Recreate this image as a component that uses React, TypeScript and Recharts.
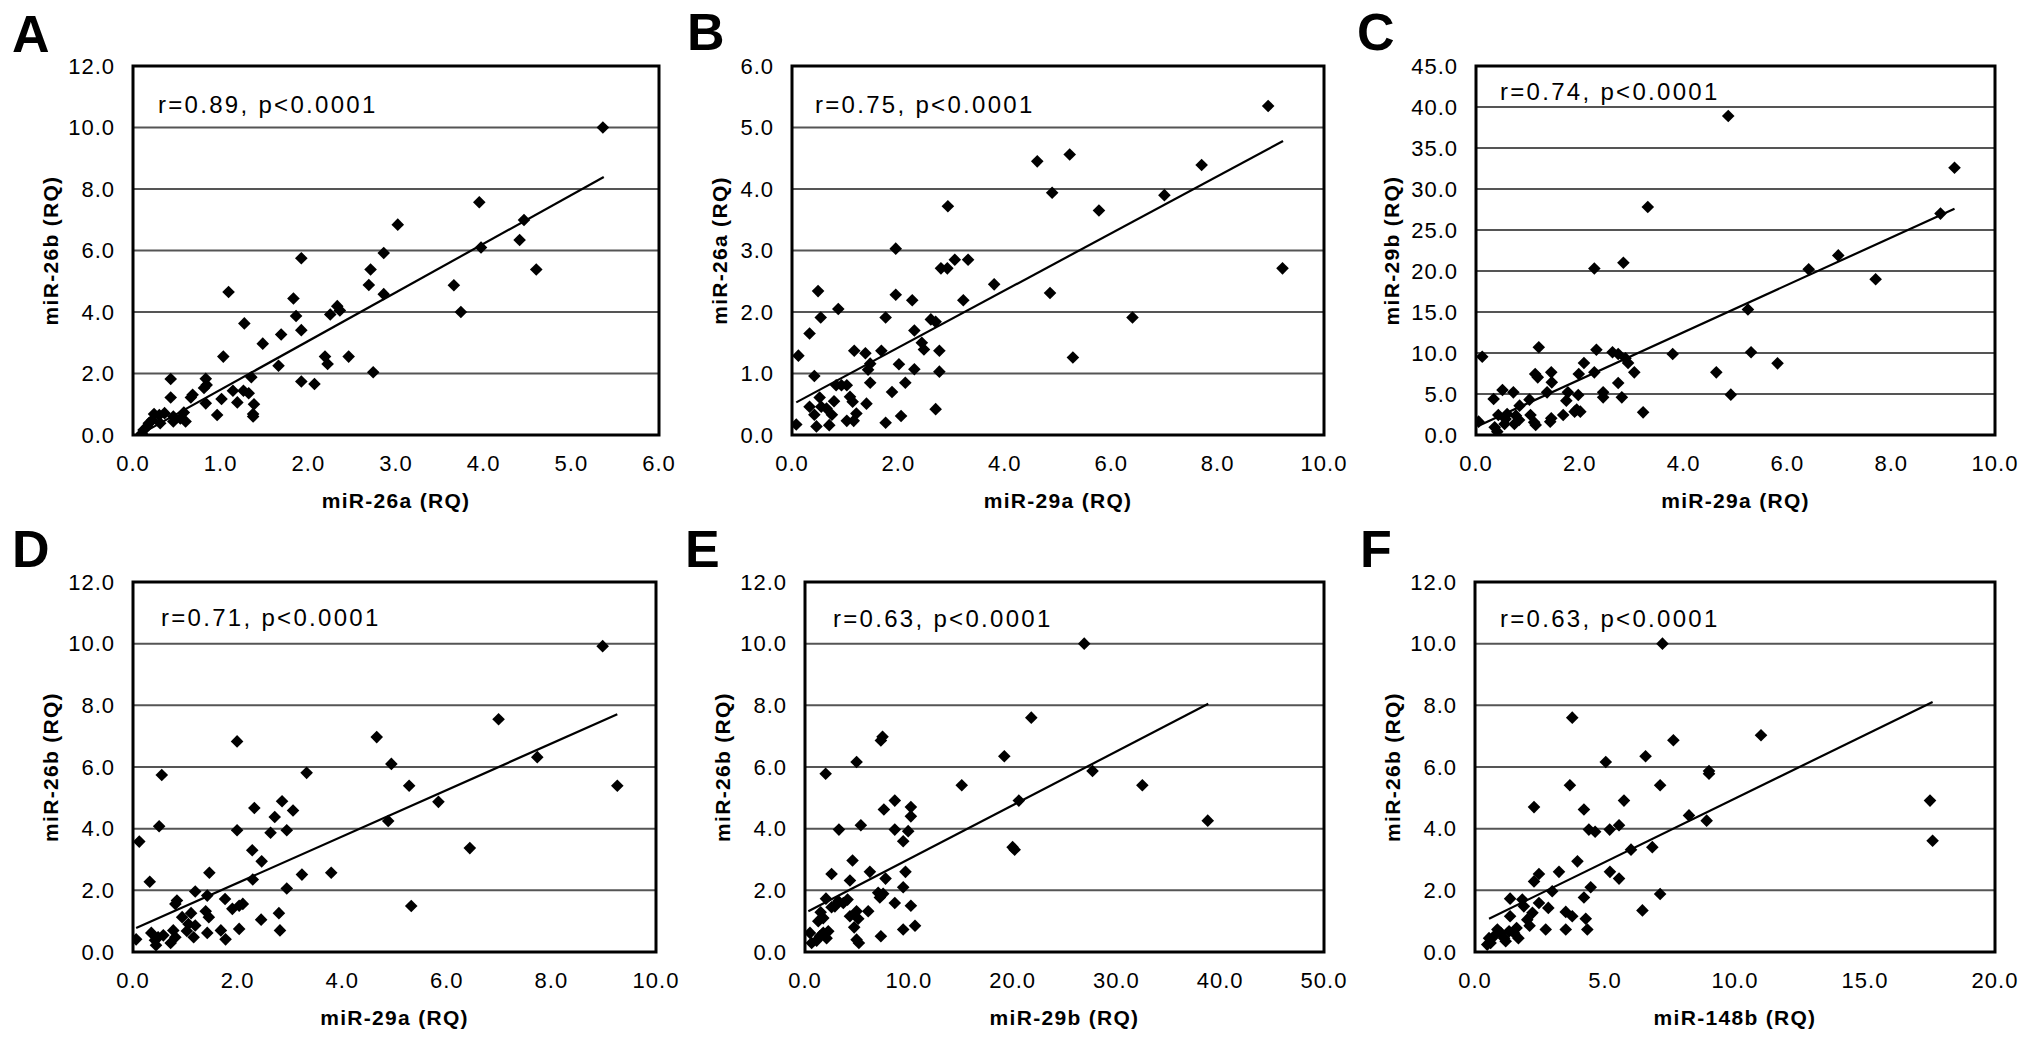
import React from 'react';
import { ScatterChart, Scatter, XAxis, YAxis, CartesianGrid, ReferenceArea, ReferenceLine } from 'recharts';

const FONT = '"Liberation Sans", Arial, Helvetica, sans-serif';

// ---------- Panel A : miR-26a vs miR-26b ----------
const aX = [5.36, 3.95, 3.02, 4.46, 4.41, 3.97, 4.60, 2.86, 2.71, 2.69, 2.86, 3.66, 3.74, 1.92, 1.09, 1.83, 1.86, 1.92, 1.27, 1.69, 1.48, 1.03, 2.25, 2.33, 2.36, 1.66, 2.19, 2.22, 2.46, 2.74, 1.92, 2.07, 1.35, 0.43, 0.83, 0.84, 0.81, 0.83, 0.68, 0.66, 0.43, 1.01, 1.14, 1.26, 1.32, 1.19, 1.38, 1.37, 1.37, 0.96, 0.58, 0.60, 0.54, 0.46, 0.46, 0.36, 0.30, 0.24, 0.31, 0.22, 0.18, 0.16, 0.12, 0.10];
const aY = [10.0, 7.57, 6.84, 6.99, 6.34, 6.10, 5.38, 5.92, 5.38, 4.88, 4.58, 4.87, 4.00, 5.75, 4.65, 4.44, 3.87, 3.41, 3.63, 3.27, 2.97, 2.55, 3.92, 4.19, 4.05, 2.25, 2.55, 2.31, 2.55, 2.04, 1.74, 1.66, 1.88, 1.82, 1.83, 1.63, 1.53, 1.03, 1.31, 1.22, 1.22, 1.17, 1.44, 1.44, 1.36, 1.06, 1.00, 0.68, 0.60, 0.65, 0.73, 0.44, 0.54, 0.60, 0.44, 0.71, 0.65, 0.68, 0.38, 0.49, 0.38, 0.27, 0.16, 0.05];
const aTrendX = [0.08, 5.37];
const aTrendY = [0.02, 8.39];

// ---------- Panel B : miR-29a vs miR-26a ----------
const bX = [9.22, 8.95, 7.70, 7.00, 5.22, 4.61, 4.89, 5.77, 4.85, 6.40, 5.28, 2.93, 1.95, 2.80, 2.92, 3.06, 3.31, 3.80, 3.22, 1.95, 2.26, 0.49, 0.54, 0.87, 0.33, 1.76, 2.61, 2.70, 2.30, 2.44, 2.48, 0.12, 1.17, 1.38, 1.68, 2.77, 1.47, 2.01, 2.30, 2.77, 0.42, 1.43, 1.47, 0.83, 0.93, 1.03, 1.88, 2.13, 1.09, 1.14, 1.40, 0.52, 0.79, 0.33, 0.55, 0.65, 0.42, 0.75, 1.21, 2.70, 2.05, 1.76, 1.03, 1.16, 0.46, 0.70, 0.08];
const bY = [2.71, 5.35, 4.39, 3.90, 4.56, 4.45, 3.94, 3.65, 2.31, 1.91, 1.26, 3.72, 3.03, 2.71, 2.71, 2.85, 2.85, 2.45, 2.19, 2.28, 2.19, 2.34, 1.91, 2.05, 1.65, 1.91, 1.88, 1.84, 1.70, 1.50, 1.39, 1.29, 1.37, 1.33, 1.37, 1.37, 1.16, 1.15, 1.07, 1.03, 0.96, 1.06, 0.85, 0.81, 0.81, 0.81, 0.70, 0.85, 0.62, 0.54, 0.51, 0.61, 0.55, 0.46, 0.46, 0.43, 0.33, 0.33, 0.35, 0.42, 0.31, 0.20, 0.23, 0.23, 0.14, 0.16, 0.17];
const bTrendX = [0.08, 9.23];
const bTrendY = [0.53, 4.78];

// ---------- Panel C : miR-29a vs miR-29b ----------
const cX = [4.86, 9.22, 3.31, 8.95, 6.98, 6.41, 7.70, 2.28, 2.84, 5.24, 5.30, 5.81, 4.63, 4.91, 3.79, 3.22, 0.12, 1.21, 2.32, 2.63, 2.74, 2.88, 2.93, 3.05, 2.08, 2.28, 1.98, 1.14, 1.19, 1.45, 1.46, 2.74, 1.37, 1.77, 1.97, 2.45, 2.45, 2.81, 0.51, 0.72, 0.34, 1.03, 0.84, 1.74, 1.94, 2.01, 1.90, 1.68, 1.45, 1.43, 1.05, 1.12, 1.15, 0.43, 0.60, 0.57, 0.77, 0.74, 0.83, 0.55, 0.05, 0.36, 0.41];
const cY = [38.9, 32.6, 27.8, 27.0, 21.9, 20.2, 19.0, 20.3, 21.0, 15.3, 10.1, 8.74, 7.64, 4.92, 9.88, 2.76, 9.55, 10.7, 10.4, 10.1, 9.88, 9.35, 8.78, 7.64, 8.78, 7.64, 7.44, 7.44, 7.03, 7.64, 6.42, 6.34, 5.20, 5.20, 4.88, 5.20, 4.59, 4.59, 5.49, 5.20, 4.39, 4.31, 3.58, 4.19, 3.09, 2.85, 2.85, 2.44, 2.03, 1.63, 2.44, 1.54, 1.22, 2.44, 2.56, 1.95, 2.36, 1.34, 1.83, 1.34, 1.63, 0.93, 0.41];
const cTrendX = [0.05, 9.22];
const cTrendY = [1.14, 27.6];

// ---------- Panel D : miR-29a vs miR-26b ----------
const dX = [8.98, 6.99, 4.66, 4.94, 7.73, 9.26, 5.28, 5.84, 4.88, 6.44, 5.32, 3.32, 1.99, 0.55, 0.50, 0.12, 0.32, 1.99, 2.32, 2.71, 2.85, 3.06, 2.63, 2.94, 2.28, 2.46, 2.29, 3.23, 3.79, 2.94, 1.46, 1.19, 1.42, 0.84, 0.81, 1.76, 1.90, 2.10, 2.03, 2.79, 2.81, 2.45, 2.03, 1.77, 1.68, 1.42, 1.45, 1.39, 1.11, 0.94, 1.06, 1.19, 1.03, 1.16, 0.81, 0.72, 0.58, 0.48, 0.35, 0.42, 0.44, 0.06, 0.77];
const dY = [9.92, 7.55, 6.97, 6.10, 6.32, 5.39, 5.39, 4.87, 4.25, 3.37, 1.49, 5.81, 6.83, 5.74, 4.08, 3.58, 2.28, 3.95, 4.67, 4.38, 4.89, 4.59, 3.87, 3.95, 3.30, 2.94, 2.35, 2.51, 2.57, 2.06, 2.57, 1.96, 1.83, 1.67, 1.56, 1.72, 1.40, 1.56, 1.50, 1.26, 0.70, 1.05, 0.75, 0.41, 0.70, 0.62, 1.13, 1.32, 1.26, 1.13, 0.91, 0.86, 0.68, 0.48, 0.48, 0.29, 0.54, 0.48, 0.62, 0.38, 0.22, 0.41, 0.70];
const dTrendX = [0.06, 9.26];
const dTrendY = [0.78, 7.71];

// ---------- Panel E : miR-29b vs miR-26b ----------
const eX = [26.9, 21.8, 19.2, 27.7, 32.5, 15.1, 20.6, 38.8, 20.0, 20.2, 7.47, 7.31, 4.97, 1.99, 7.60, 8.65, 10.2, 10.2, 9.94, 8.65, 9.46, 5.38, 3.27, 4.58, 2.56, 6.25, 4.33, 7.76, 9.68, 9.46, 7.05, 7.53, 7.21, 8.65, 10.2, 2.02, 4.10, 3.69, 3.21, 2.56, 2.88, 1.51, 6.09, 4.97, 4.33, 5.13, 4.74, 1.76, 1.28, 9.46, 10.6, 7.31, 4.97, 5.19, 2.24, 1.76, 1.44, 2.08, 1.12, 0.48, 0.64, 1.60];
const eY = [10.0, 7.60, 6.35, 5.87, 5.41, 5.41, 4.91, 4.26, 3.40, 3.32, 6.98, 6.86, 6.16, 5.78, 4.62, 4.91, 4.70, 4.40, 3.92, 3.97, 3.59, 4.11, 3.97, 2.97, 2.53, 2.60, 2.32, 2.38, 2.60, 2.10, 1.92, 1.89, 1.77, 1.59, 1.50, 1.73, 1.70, 1.59, 1.65, 1.45, 1.48, 1.29, 1.32, 1.32, 1.16, 1.08, 0.80, 1.10, 1.00, 0.73, 0.85, 0.51, 0.40, 0.29, 0.67, 0.62, 0.51, 0.45, 0.37, 0.62, 0.29, 0.56];
const eTrendX = [0.32, 38.85];
const eTrendY = [1.32, 8.05];

// ---------- Panel F : miR-148b vs miR-26b ----------
const fX = [7.21, 3.74, 11.0, 7.63, 6.56, 5.03, 9.00, 9.00, 3.65, 7.12, 5.73, 2.27, 4.19, 17.5, 17.6, 8.23, 8.91, 5.54, 5.18, 4.38, 4.62, 6.82, 6.00, 3.94, 3.23, 5.19, 5.54, 2.46, 2.27, 2.97, 4.45, 4.19, 7.12, 6.44, 1.35, 1.82, 1.88, 2.46, 2.82, 2.21, 3.49, 3.74, 4.26, 2.01, 2.10, 2.72, 3.49, 4.32, 1.35, 1.60, 1.31, 1.50, 0.99, 0.86, 1.12, 0.73, 0.54, 1.67, 1.18, 0.60, 0.47];
const fY = [10.0, 7.60, 7.03, 6.87, 6.35, 6.16, 5.87, 5.78, 5.41, 5.41, 4.91, 4.70, 4.62, 4.91, 3.61, 4.43, 4.26, 4.11, 3.97, 3.97, 3.90, 3.40, 3.32, 2.94, 2.60, 2.60, 2.38, 2.53, 2.29, 1.97, 2.10, 1.77, 1.88, 1.35, 1.73, 1.70, 1.48, 1.59, 1.43, 1.27, 1.30, 1.16, 1.08, 1.05, 0.85, 0.73, 0.73, 0.73, 1.16, 0.78, 0.67, 0.62, 0.62, 0.73, 0.45, 0.51, 0.45, 0.45, 0.35, 0.29, 0.24];
const fTrendX = [0.54, 17.6];
const fTrendY = [1.08, 8.11];

// ---------- Tick lists ----------
const ticksX6 = [0, 1, 2, 3, 4, 5, 6];
const ticksX10 = [0, 2, 4, 6, 8, 10];
const ticksX50 = [0, 10, 20, 30, 40, 50];
const ticksX20 = [0, 5, 10, 15, 20];
const ticksY12 = [0, 2, 4, 6, 8, 10, 12];
const ticksY6 = [0, 1, 2, 3, 4, 5, 6];
const ticksY45 = [0, 5, 10, 15, 20, 25, 30, 35, 40, 45];

const toPoints = (xs: number[], ys: number[]) => xs.map((x, i) => ({ x, y: ys[i] }));

const Diamond = (props: any) => {
  const { cx, cy } = props;
  if (cx == null || cy == null) return <g />;
  const r = 6.3;
  return <path d={`M${cx},${cy - r}L${cx + r},${cy}L${cx},${cy + r}L${cx - r},${cy}Z`} fill="#000" />;
};

const YW = 130;
const MT = 20;
const MR = 40;
const XH = 95;

type PanelProps = {
  L: number; T: number; R: number; B: number;
  xs: number[]; ys: number[]; tx: number[]; ty: number[];
  xTicks: number[]; yTicks: number[];
  xTitle: string; yTitle: string; yTitleOff: number;
};

const Panel = (p: PanelProps) => {
  const w = YW + (p.R - p.L) + MR;
  const h = MT + (p.B - p.T) + XH;
  const xMax = p.xTicks[p.xTicks.length - 1];
  const yMax = p.yTicks[p.yTicks.length - 1];
  const tickStyle = { fill: '#000', fontSize: 22, fontFamily: FONT, letterSpacing: 1 };
  return (
    <div style={{ position: 'absolute', left: p.L - YW, top: p.T - MT, width: w, height: h }}>
      <ScatterChart width={w} height={h} margin={{ top: MT, right: MR, bottom: 0, left: 0 }}>
        <CartesianGrid horizontal={true} vertical={false} stroke="#555" strokeWidth={2} />
        <XAxis
          type="number" dataKey="x" domain={[0, xMax]} ticks={p.xTicks} interval={0}
          tickFormatter={(v: number) => v.toFixed(1)} axisLine={false} tickLine={false}
          tickSize={0} tickMargin={20} height={XH} tick={tickStyle} allowDataOverflow
          label={{
            value: p.xTitle,
            content: (lp: any) => {
              const vb = lp.viewBox || {};
              const cx = vb.x + vb.width / 2;
              const y = vb.y + 73;
              return (
                <text x={cx} y={y} textAnchor="middle" fontFamily={FONT} fontWeight="bold" fontSize={21} letterSpacing={1.3} fill="#000">
                  {p.xTitle}
                </text>
              );
            },
          }}
        />
        <YAxis
          type="number" dataKey="y" domain={[0, yMax]} ticks={p.yTicks} interval={0}
          tickFormatter={(v: number) => v.toFixed(1)} axisLine={false} tickLine={false}
          tickSize={0} tickMargin={18} width={YW} tick={tickStyle} allowDataOverflow
          label={{
            value: p.yTitle,
            content: (lp: any) => {
              const vb = lp.viewBox || {};
              const x = vb.x + vb.width - p.yTitleOff;
              const y = vb.y + vb.height / 2;
              return (
                <text x={x} y={y} transform={`rotate(-90 ${x} ${y})`} textAnchor="middle" dominantBaseline="central"
                  fontFamily={FONT} fontWeight="bold" fontSize={21} letterSpacing={1.3} fill="#000">
                  {p.yTitle}
                </text>
              );
            },
          }}
        />
        <ReferenceArea x1={0} x2={xMax} y1={0} y2={yMax} fill="none" fillOpacity={0} stroke="#000" strokeWidth={3} ifOverflow="visible" />
        <Scatter data={toPoints(p.xs, p.ys)} fill="#000" shape={Diamond} isAnimationActive={false} />
        <ReferenceLine
          segment={[{ x: p.tx[0], y: p.ty[0] }, { x: p.tx[1], y: p.ty[1] }]}
          stroke="#000" strokeWidth={2.2} ifOverflow="visible"
        />
      </ScatterChart>
    </div>
  );
};

const letters = [
  { t: 'A', x: 12, y: 52 },
  { t: 'B', x: 687, y: 50 },
  { t: 'C', x: 1357, y: 50 },
  { t: 'D', x: 12, y: 567 },
  { t: 'E', x: 685, y: 567 },
  { t: 'F', x: 1360, y: 567 },
];

const notes = [
  { t: 'r=0.89, p<0.0001', x: 158, y: 113 },
  { t: 'r=0.75, p<0.0001', x: 815, y: 113 },
  { t: 'r=0.74, p<0.0001', x: 1500, y: 100 },
  { t: 'r=0.71, p<0.0001', x: 161, y: 626 },
  { t: 'r=0.63, p<0.0001', x: 833, y: 627 },
  { t: 'r=0.63, p<0.0001', x: 1500, y: 627 },
];

export default function App() {
  return (
    <div style={{ position: 'absolute', left: 0, top: 0, width: 2031, height: 1043, background: '#fff', overflow: 'hidden' }}>
      <Panel L={133} T={66} R={659} B={435} xs={aX} ys={aY} tx={aTrendX} ty={aTrendY} xTicks={ticksX6} yTicks={ticksY12} xTitle="miR-26a (RQ)" yTitle="miR-26b (RQ)" yTitleOff={83} />
      <Panel L={792} T={66} R={1324} B={435} xs={bX} ys={bY} tx={bTrendX} ty={bTrendY} xTicks={ticksX10} yTicks={ticksY6} xTitle="miR-29a (RQ)" yTitle="miR-26a (RQ)" yTitleOff={73} />
      <Panel L={1476} T={66} R={1995} B={435} xs={cX} ys={cY} tx={cTrendX} ty={cTrendY} xTicks={ticksX10} yTicks={ticksY45} xTitle="miR-29a (RQ)" yTitle="miR-29b (RQ)" yTitleOff={85} />
      <Panel L={133} T={582} R={656} B={952} xs={dX} ys={dY} tx={dTrendX} ty={dTrendY} xTicks={ticksX10} yTicks={ticksY12} xTitle="miR-29a (RQ)" yTitle="miR-26b (RQ)" yTitleOff={83} />
      <Panel L={805} T={582} R={1324} B={952} xs={eX} ys={eY} tx={eTrendX} ty={eTrendY} xTicks={ticksX50} yTicks={ticksY12} xTitle="miR-29b (RQ)" yTitle="miR-26b (RQ)" yTitleOff={83} />
      <Panel L={1475} T={582} R={1995} B={952} xs={fX} ys={fY} tx={fTrendX} ty={fTrendY} xTicks={ticksX20} yTicks={ticksY12} xTitle="miR-148b (RQ)" yTitle="miR-26b (RQ)" yTitleOff={83} />
      <svg width={2031} height={1043} style={{ position: 'absolute', left: 0, top: 0, pointerEvents: 'none' }}>
        {letters.map((l) => (
          <text key={l.t} x={l.x} y={l.y} fontFamily={FONT} fontWeight="bold" fontSize={52} fill="#000">{l.t}</text>
        ))}
        {notes.map((n, i) => (
          <text key={i} x={n.x} y={n.y} fontFamily={FONT} fontSize={24} letterSpacing={2.3} fill="#000">{n.t}</text>
        ))}
      </svg>
    </div>
  );
}
